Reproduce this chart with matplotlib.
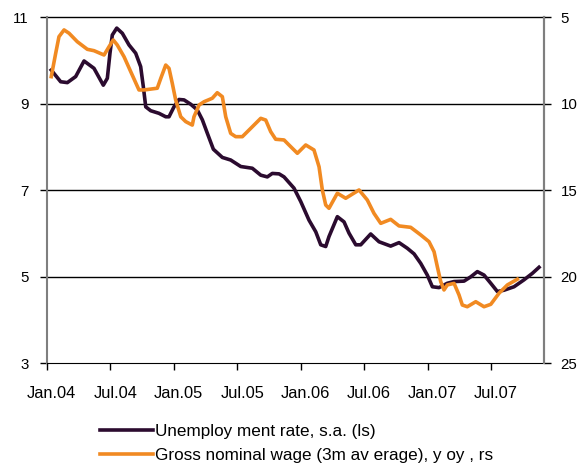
import numpy as np
import matplotlib.pyplot as plt
import matplotlib.transforms as mtransforms

plt.rcParams['font.family'] = ['Liberation Sans', 'DejaVu Sans']

# months since Jan.04
unemp_x = [0.43, 1.32, 1.95, 2.74, 3.53, 4.47, 5.35, 5.73, 5.98, 6.20, 6.62, 7.15, 7.78, 8.41, 8.88,
           9.13, 9.36, 9.83, 10.61, 11.25, 11.56, 12.03, 12.50, 12.98, 13.61, 14.23, 14.71, 15.18,
           15.75, 16.60, 17.39, 18.34, 19.43, 20.23, 20.85, 21.32, 21.96, 22.43, 23.37, 24.01,
           24.79, 25.43, 25.90, 26.37, 26.68, 27.47, 28.10, 28.57, 29.21, 29.68, 30.62, 31.41,
           32.51, 33.30, 34.08, 34.72, 35.35, 35.97, 36.45, 37.08, 37.86, 38.50, 39.44, 40.08,
           40.70, 41.33, 41.97, 42.59, 43.22, 44.17, 45.11, 45.90, 46.53]
unemp = [9.78, 9.51, 9.49, 9.63, 9.99, 9.82, 9.43, 9.59, 10.17, 10.59, 10.75, 10.63, 10.36, 10.17, 9.86,
         9.40, 8.93, 8.84, 8.78, 8.70, 8.70, 8.93, 9.10, 9.09, 8.99, 8.86, 8.63, 8.32,
         7.95, 7.76, 7.70, 7.55, 7.51, 7.35, 7.31, 7.39, 7.38, 7.31, 7.05, 6.74,
         6.31, 6.04, 5.74, 5.70, 5.93, 6.39, 6.27, 6.01, 5.74, 5.74, 5.99, 5.81,
         5.71, 5.79, 5.66, 5.53, 5.31, 5.04, 4.77, 4.75, 4.85, 4.89, 4.90, 5.00,
         5.12, 5.04, 4.85, 4.66, 4.69, 4.77, 4.93, 5.08, 5.22]

wage_x = [0.43, 0.85, 1.16, 1.64, 2.11, 2.89, 3.84, 4.47, 5.42, 5.89, 6.29, 6.67, 7.31, 7.94, 8.72,
          9.20, 10.45, 10.78, 11.25, 11.56, 11.87, 12.19, 12.67, 13.14, 13.76, 13.92, 14.40, 14.87,
          15.65, 16.12, 16.60, 16.92, 17.39, 17.86, 18.49, 19.28, 20.23, 20.70, 21.17, 21.64,
          22.43, 22.90, 23.69, 24.48, 25.26, 25.74, 26.05, 26.37, 26.68, 27.47, 28.26, 29.52,
          30.30, 30.93, 31.57, 32.51, 33.30, 34.40, 35.35, 36.13, 36.61, 36.92, 37.24, 37.55,
          37.86, 38.50, 38.97, 39.28, 39.75, 40.55, 41.33, 41.97, 42.75, 43.54, 44.48]
wage = [8.43, 7.08, 6.12, 5.73, 5.92, 6.41, 6.85, 6.93, 7.18, 6.70, 6.31, 6.60, 7.28, 8.14, 9.20,
        9.20, 9.10, 8.53, 7.76, 7.95, 8.82, 9.78, 10.75, 11.03, 11.23, 10.75, 10.07, 9.88,
        9.68, 9.36, 9.59, 10.75, 11.71, 11.90, 11.90, 11.42, 10.84, 10.94, 11.61, 12.05,
        12.09, 12.38, 12.86, 12.38, 12.67, 13.64, 14.98, 15.85, 16.04, 15.17, 15.46, 14.98,
        15.56, 16.33, 16.91, 16.68, 17.06, 17.14, 17.58, 17.97, 18.55, 19.42, 20.28, 20.76,
        20.47, 20.38, 21.05, 21.63, 21.73, 21.44, 21.73, 21.59, 20.95, 20.47, 20.14]

tick_pos = [0, 6, 12, 18, 24, 30, 36, 42]
tick_labels = ['Jan.04', 'Jul.04', 'Jan.05', 'Jul.05', 'Jan.06', 'Jul.06', 'Jan.07', 'Jul.07']
left_ticks = [3, 5, 7, 9, 11]
right_ticks = [5, 10, 15, 20, 25]

dark = '#2b0b2f'
orange = '#f18a22'

fig = plt.figure(figsize=(5.87, 4.65), dpi=100)
ax = fig.add_axes([46.7/587, 1-363.3/465, (544-46.7)/587, (363.3-17.3)/465])

for y in [5, 7, 9, 11]:
    ax.axhline(y, color='black', lw=1.0, zorder=1, clip_on=False)

l1, = ax.plot(unemp_x, unemp, color=dark, lw=2.6, solid_joinstyle='round', zorder=3,
              label='Unemploy ment rate, s.a. (ls)')
ax.set_xlim(0, 47)
ax.set_ylim(3, 11)
ax.set_yticks(left_ticks)
ax.set_xticks(tick_pos)
ax.set_xticklabels(tick_labels, fontsize=11.8)
ax.tick_params(axis='y', labelsize=10.8, length=5, width=1, pad=8, colors='black')
ax.tick_params(axis='x', length=5, width=1, pad=11)
off = mtransforms.ScaledTranslation(5/100, 0, fig.dpi_scale_trans)
for lab in ax.get_xticklabels():
    lab.set_transform(lab.get_transform() + off)

ax.spines['top'].set_visible(False)
ax.spines['left'].set_color('#7f7f7f')
ax.spines['left'].set_linewidth(1.5)
ax.spines['right'].set_color('#7f7f7f')
ax.spines['right'].set_linewidth(1.5)
ax.spines['bottom'].set_color('black')

ax2 = ax.twinx()
l2, = ax2.plot(wage_x, wage, color=orange, lw=2.6, solid_joinstyle='round', zorder=3,
               label='Gross nominal wage (3m av erage), y oy , rs')
ax2.set_ylim(25, 5)
ax2.set_yticks(right_ticks)
ax2.tick_params(axis='y', labelsize=10.8, length=5, width=1, pad=7)
ax2.spines['top'].set_visible(False)
ax2.spines['right'].set_color('#7f7f7f')
ax2.spines['right'].set_linewidth(1.5)
ax2.spines['left'].set_visible(False)
ax2.spines['bottom'].set_visible(False)

fig.legend(handles=[l1, l2], loc='upper left', bbox_to_anchor=(100/587, 1-424/465),
           frameon=False, fontsize=12.3, handlelength=3.1, handletextpad=0.1,
           borderpad=0, borderaxespad=0, labelspacing=0.5)

fig.savefig('out.png', dpi=100)
